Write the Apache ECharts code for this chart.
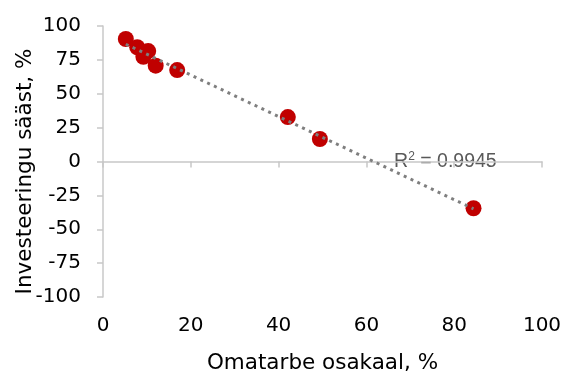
<!DOCTYPE html>
<html>
<head>
<meta charset="utf-8">
<script src="https://cdn.jsdelivr.net/npm/echarts@6/dist/echarts.min.js"></script>
<style>
  html, body { margin: 0; padding: 0; background: #fff; }
  #chart { width: 570px; height: 380px; }
</style>
</head>
<body>
<div id="chart"></div>
<script>
// Self-consumption share (%) vs. investment savings (%)
const shareSelf = [5.2, 7.8, 10.3, 9.2, 12.0, 16.9, 42.1, 49.4, 84.4];
const savings   = [90.4, 84.3, 81.5, 77.3, 70.7, 67.5, 32.8, 16.6, -34.5];
const xTicks = [0, 20, 40, 60, 80, 100];
const yTicks = [-100, -75, -50, -25, 0, 25, 50, 75, 100];
const xTitle = 'Omatarbe osakaal, %';
const yTitle = 'Investeeringu sääst, %';
const r2Text = '0.9945';

// least-squares linear trend
const n = shareSelf.length;
const mx = shareSelf.reduce((a, b) => a + b, 0) / n;
const my = savings.reduce((a, b) => a + b, 0) / n;
let sxy = 0, sxx = 0;
for (let i = 0; i < n; i++) {
  sxy += (shareSelf[i] - mx) * (savings[i] - my);
  sxx += (shareSelf[i] - mx) ** 2;
}
const slope = sxy / sxx;
const icpt = my - slope * mx;
const xMin = Math.min(...shareSelf), xMax = Math.max(...shareSelf);
const trend = [[xMin, icpt + slope * xMin], [xMax, icpt + slope * xMax]];

const labelColor = '#595959';
const axisColor = '#c8c8c8';
const font = 'DejaVu Sans, Verdana, sans-serif';

const chart = echarts.init(document.getElementById('chart'));
chart.setOption({
  animation: false,
  grid: { left: 103, right: 28, top: 26, bottom: 83, outerBoundsMode: 'none', containLabel: false },
  xAxis: {
    type: 'value', min: xTicks[0], max: xTicks[xTicks.length - 1], interval: 20,
    name: xTitle, nameLocation: 'middle', nameGap: 55, nameMoveOverlap: false,
    nameTextStyle: { color: '#000', fontSize: 21.5, fontFamily: font },
    axisLine: { lineStyle: { color: axisColor, width: 1.5 } },
    axisTick: { show: true, length: 6, lineStyle: { color: axisColor, width: 1.5 } },
    axisLabel: { color: '#000', fontSize: 20, fontFamily: font, margin: 19 },
    splitLine: { show: false }
  },
  yAxis: {
    type: 'value', min: yTicks[0], max: yTicks[yTicks.length - 1], interval: 25,
    name: yTitle, nameLocation: 'middle', nameGap: 67, nameRotate: 90, nameMoveOverlap: false,
    nameTextStyle: { color: '#000', fontSize: 21.5, fontFamily: font, padding: [0, 20, 0, 0] },
    axisLine: { show: true, lineStyle: { color: axisColor, width: 1.5 } },
    axisTick: { show: true, length: 6, lineStyle: { color: axisColor, width: 1.5 } },
    axisLabel: { color: '#000', fontSize: 20, fontFamily: font, margin: 22 },
    splitLine: { show: false }
  },
  series: [
    {
      type: 'scatter', symbol: 'circle', symbolSize: 16,
      itemStyle: { color: '#C00000', opacity: 1 },
      data: shareSelf.map((x, i) => [x, savings[i]]), z: 2
    },
    {
      type: 'line', data: trend, symbol: 'none', z: 3,
      lineStyle: { color: '#7f7f7f', width: 3, type: [3, 4.5] }
    }
  ]
});

// R² annotation beside the trend line
const p = chart.convertToPixel({ gridIndex: 0 }, [66.3, 0]);
chart.setOption({
  graphic: [{
    type: 'text', x: p[0], y: p[1],
    style: {
      text: 'R{s|2} = ' + r2Text,
      font: '19.5px "Liberation Sans", Arial, sans-serif',
      fill: labelColor, verticalAlign: 'middle',
      rich: { s: { fontSize: 12, verticalAlign: 'top', fill: labelColor, padding: [0, 0, 10, 0] } }
    }
  }]
});
</script>
</body>
</html>
